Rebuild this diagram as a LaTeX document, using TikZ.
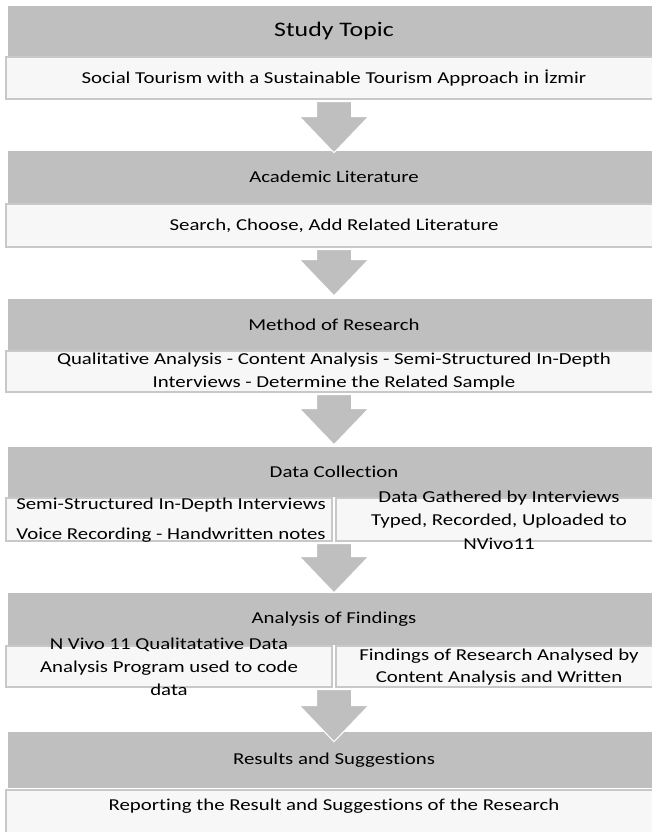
\documentclass[tikz,border=0pt]{standalone}
\usepackage{fontspec}
\setmainfont{Carlito}[FakeStretch=1.25, Ligatures=NoCommon]
\usetikzlibrary{calc}
\definecolor{headgrey}{HTML}{BFBFBF}
\definecolor{bodyfill}{HTML}{F7F7F7}
\definecolor{bodyline}{HTML}{C8C8C8}
% block arrow from the bottom of one box to the top of the next
\newcommand{\flowarrow}[3][0]{%
  \path[flow] ($(#2.south -| #3.north)+(-17.5,1.5)$) -- ($(#2.south -| #3.north)+(17.5,1.5)$)
    -- ($(#3.north)+(17.5,#1-36)$) -- ($(#3.north)+(34.5,#1-36)$)
    -- ($(#3.north)+(0,#1)$)
    -- ($(#3.north)+(-34.5,#1-36)$) -- ($(#3.north)+(-17.5,#1-36)$) -- cycle;}

\begin{document}
\begin{tikzpicture}[x=0.75pt,y=-0.75pt,
  head/.style={fill=headgrey, inner sep=0pt, minimum width=489pt, font=\fontsize{12.5}{15}\selectfont},
  body/.style={fill=bodyfill, draw=bodyline, line width=1.5pt, inner sep=0pt, minimum width=492pt, align=center, font=\fontsize{12.5}{17}\selectfont},
  half/.style={body, minimum width=244.5pt},
  words/.style={align=center, inner sep=0pt, font=\fontsize{12.5}{17}\selectfont},
  flow/.style={fill=headgrey, draw=white, line width=0.75pt}]
  \useasboundingbox (0,0) rectangle (652,832);
  \clip (0,0) rectangle (652,832);

  % grey headings
  \node[head, minimum height=37.5pt, font=\fontsize{15.5}{18}\selectfont] (topic) at (334,31) {Study Topic};
  \node[head, minimum height=39pt] (lit) at (334,177) {Academic Literature};
  \node[head, minimum height=38.25pt] (method) at (334,324.5) {Method of Research};
  \node[head, minimum height=37.5pt] (data) at (334,472) {Data Collection};
  \node[head, minimum height=39pt] (analysis) at (334,619) {Analysis of Findings};
  \node[head, minimum height=42pt] (results) at (334,760) {Results and Suggestions};

  % white boxes
  \node[body, minimum height=31.5pt] (topicbody) at (334,78) {Social Tourism with a Sustainable Tourism Approach in İzmir};
  \node[body, minimum height=32.25pt] (litbody) at (334,225.5) {Search, Choose, Add Related Literature};
  \node[body, minimum height=30.75pt] (methodbody) at (334,371.5) {Qualitative Analysis - Content Analysis - Semi-Structured In-Depth\\Interviews - Determine the Related Sample};
  \node[half, minimum height=32.25pt] (dataleft) at (169,519.5) {};
  \node[half, minimum height=32.25pt] (dataright) at (499,519.5) {};
  \node[half, minimum height=30.75pt] (anleft) at (169,666.5) {};
  \node[half, minimum height=30.75pt] (anright) at (499,666.5) {};
  \node[body, minimum height=45pt, anchor=north] (resbody) at (334,789) {};

  % texts running over the box edges
  \node[words, font=\fontsize{12.5}{22.5}\selectfont] (datalefttext) at (171,520) {Semi-Structured In-Depth Interviews\\Voice Recording - Handwritten notes};
  \node[words, font=\fontsize{12.5}{17.6}\selectfont] (datarighttext) at (499,520) {Data Gathered by Interviews\\Typed, Recorded, Uploaded to\\NVivo11};
  \node[words, font=\fontsize{12.5}{17.25}\selectfont] (anlefttext) at (169,667) {N Vivo 11 Qualitatative Data\\Analysis Program used to code\\data};
  \node[words, font=\fontsize{12.5}{16.5}\selectfont] (anrighttext) at (499,667) {Findings of Research Analysed by\\Content Analysis and Written};
  \node[words] (restext) at (334,806) {Reporting the Result and Suggestions of the Research};

  % arrows
  \flowarrow[2]{topicbody}{lit}
  \flowarrow[-3]{litbody}{method}
  \flowarrow[-2]{methodbody}{data}
  \flowarrow[0]{dataleft}{analysis}
  \flowarrow[10]{anleft}{results}
\end{tikzpicture}
\end{document}
